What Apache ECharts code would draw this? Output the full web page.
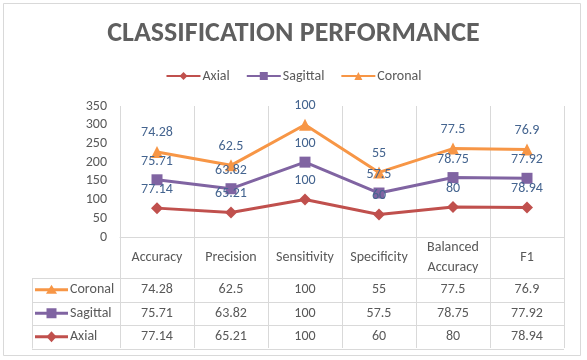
<!DOCTYPE html>
<html>
<head>
<meta charset="utf-8">
<script src="https://cdn.jsdelivr.net/npm/echarts@6/dist/echarts.min.js"></script>
<style>
html,body{margin:0;padding:0;background:#fff;}
#main{width:587px;height:360px;}
</style>
</head>
<body>
<div id="main"></div>
<script>
// ---- data ----
var categories = ['Accuracy', 'Precision', 'Sensitivity', 'Specificity', 'Balanced\nAccuracy', 'F1'];
var axial = [77.14, 65.21, 100, 60, 80, 78.94];
var sagittal = [75.71, 63.82, 100, 57.5, 78.75, 77.92];
var coronal = [74.28, 62.5, 100, 55, 77.5, 76.9];
var yTicks = [0, 50, 100, 150, 200, 250, 300, 350];

var FONT = 'Carlito, Lato, "Open Sans", sans-serif';
var TXT = '#595959';
var GRIDC = '#d9d9d9';
var LABELC = '#44648f';
var COLORS = { Axial: '#C0504D', Sagittal: '#8064A2', Coronal: '#F79646' };
var SYMBOLS = { Axial: 'diamond', Sagittal: 'rect', Coronal: 'triangle' };

var gridL = 120, gridR = 23, gridT = 106, gridB = 123;
var rowH = 23.5;

var chart = echarts.init(document.getElementById('main'), null, { renderer: 'canvas' });

function mkSeries(name, data) {
  return {
    name: name,
    type: 'line',
    stack: 'total',
    data: data,
    symbol: SYMBOLS[name],
    symbolSize: name === 'Sagittal' ? 11 : 12,
    itemStyle: { color: COLORS[name] },
    lineStyle: { color: COLORS[name], width: 3 },
    label: {
      show: true, position: 'top', distance: 6,
      color: LABELC, fontFamily: FONT, fontSize: 14
    },
    emphasis: { disabled: true },
    animation: false,
    z: 3
  };
}

var option = {
  animation: false,
  backgroundColor: '#fff',
  title: {
    text: 'CLASSIFICATION PERFORMANCE',
    left: 'center', top: 15,
    textStyle: { fontFamily: FONT, fontSize: 28, fontWeight: 'bold', color: '#5f5f5f' }
  },
  legend: {
    top: 64, left: 'center',
    itemWidth: 34, itemHeight: 10, itemGap: 16,
    data: ['Axial', 'Sagittal', 'Coronal'],
    textStyle: { fontFamily: FONT, fontSize: 14, color: TXT, padding: [0, 0, 0, -3] }
  },
  grid: { left: gridL, right: gridR, top: gridT, bottom: gridB },
  xAxis: {
    type: 'category',
    data: categories,
    boundaryGap: true,
    axisLine: { show: true, lineStyle: { color: GRIDC, width: 1 } },
    axisTick: { show: true, length: 111, lineStyle: { color: GRIDC, width: 1 } },
    splitLine: { show: true, lineStyle: { color: GRIDC, width: 1 } },
    axisLabel: {
      margin: 20, verticalAlign: 'middle', lineHeight: 20,
      fontFamily: FONT, fontSize: 14, color: TXT, interval: 0
    }
  },
  yAxis: {
    type: 'value',
    min: yTicks[0], max: yTicks[yTicks.length - 1], interval: 50,
    axisLine: { show: false },
    axisTick: { show: false },
    splitLine: { show: false },
    axisLabel: { margin: 13, fontFamily: FONT, fontSize: 14, color: TXT }
  },
  series: [mkSeries('Axial', axial), mkSeries('Sagittal', sagittal), mkSeries('Coronal', coronal)]
};
chart.setOption(option);

// ---- data table below the axis ----
var H = 360, W = 587;
var axisY = H - gridB;
var headerBottom = axisY + 41;
var tableLeft = 32, tableRight = W - gridR;
var rows = [['Coronal', coronal], ['Sagittal', sagittal], ['Axial', axial]];
var els = [];
// outer chart border
els.push({ type: 'rect', shape: { x: 3.5, y: 3.5, width: 577, height: 352 }, style: { fill: null, stroke: '#d9d9d9', lineWidth: 1 }, silent: true });
// horizontal rules
for (var r = 0; r <= rows.length; r++) {
  var yy = Math.round(headerBottom + r * rowH) + 0.5;
  els.push({ type: 'line', shape: { x1: tableLeft, y1: yy, x2: tableRight, y2: yy }, style: { stroke: GRIDC, lineWidth: 1 }, silent: true });
}
// left border of the row headers
els.push({ type: 'line', shape: { x1: tableLeft + 0.5, y1: headerBottom, x2: tableLeft + 0.5, y2: headerBottom + rows.length * rowH }, style: { stroke: GRIDC, lineWidth: 1 }, silent: true });

function keySymbol(name, cx, cy) {
  var c = COLORS[name];
  if (name === 'Coronal') return { type: 'polygon', shape: { points: [[cx, cy - 5], [cx - 5.5, cy + 4], [cx + 5.5, cy + 4]] }, style: { fill: c }, silent: true };
  if (name === 'Sagittal') return { type: 'rect', shape: { x: cx - 5, y: cy - 5, width: 10, height: 10 }, style: { fill: c }, silent: true };
  return { type: 'polygon', shape: { points: [[cx, cy - 5.5], [cx + 5, cy], [cx, cy + 5.5], [cx - 5, cy]] }, style: { fill: c }, silent: true };
}

rows.forEach(function (row, ri) {
  var cy = headerBottom + ri * rowH + rowH / 2;
  var name = row[0];
  els.push({ type: 'line', shape: { x1: 35, y1: cy, x2: 68, y2: cy }, style: { stroke: COLORS[name], lineWidth: 3 }, silent: true });
  els.push(keySymbol(name, 51.5, cy));
  els.push({ type: 'text', x: 70, y: cy, style: { text: name, fontFamily: FONT, fontSize: 14, fill: TXT, align: 'left', verticalAlign: 'middle' }, silent: true });
  row[1].forEach(function (v, ci) {
    var px = chart.convertToPixel({ xAxisIndex: 0 }, ci);
    els.push({ type: 'text', x: px, y: cy, style: { text: String(v), fontFamily: FONT, fontSize: 14, fill: TXT, align: 'center', verticalAlign: 'middle' }, silent: true });
  });
});
chart.setOption({ graphic: { elements: els } });
</script>
</body>
</html>
